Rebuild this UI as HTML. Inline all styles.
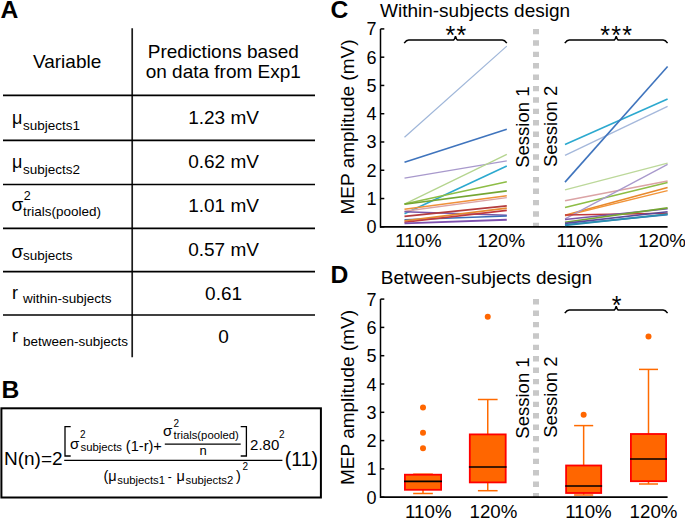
<!DOCTYPE html>
<html><head><meta charset="utf-8"><style>
html,body{margin:0;padding:0;background:#fff;}
svg{display:block;}
</style></head><body>
<svg width="685" height="519" viewBox="0 0 685 519">
<rect width="685" height="519" fill="#fff"/>
<text x="0.5" y="17.5" font-family="Liberation Sans, sans-serif" font-size="24.7" font-weight="bold">A</text>
<g stroke="#000" stroke-width="1.7">
<line x1="132.2" y1="28.3" x2="132.2" y2="357.2" stroke="#1c1c1c"/>
<line x1="3" y1="95.4" x2="315" y2="95.4"/>
<line x1="3" y1="140.4" x2="315" y2="140.4"/>
<line x1="3" y1="184.5" x2="315" y2="184.5"/>
<line x1="3" y1="228.3" x2="315" y2="228.3"/>
<line x1="3" y1="271.7" x2="315" y2="271.7"/>
<line x1="3" y1="315" x2="315" y2="315"/>
</g>
<text x="67.1" y="68.3" font-family="Liberation Sans, sans-serif" font-size="19" text-anchor="middle">Variable</text>
<text x="223.3" y="57.8" font-family="Liberation Sans, sans-serif" font-size="19" text-anchor="middle">Predictions based</text>
<text x="223.3" y="78.4" font-family="Liberation Sans, sans-serif" font-size="19" text-anchor="middle">on data from Exp1</text>
<text x="223.6" y="124.2" font-family="Liberation Sans, sans-serif" font-size="19" text-anchor="middle">1.23 mV</text>
<text x="223.6" y="168.4" font-family="Liberation Sans, sans-serif" font-size="19" text-anchor="middle">0.62 mV</text>
<text x="223.6" y="212.3" font-family="Liberation Sans, sans-serif" font-size="19" text-anchor="middle">1.01 mV</text>
<text x="223.6" y="255.8" font-family="Liberation Sans, sans-serif" font-size="19" text-anchor="middle">0.57 mV</text>
<text x="223.6" y="299.7" font-family="Liberation Sans, sans-serif" font-size="19" text-anchor="middle">0.61</text>
<text x="223.6" y="343" font-family="Liberation Sans, sans-serif" font-size="19" text-anchor="middle">0</text>
<text x="12" y="124" font-family="Liberation Sans, sans-serif" font-size="18">&#956;<tspan x="23" y="129.5" font-size="13.5">subjects1</tspan></text>
<text x="12" y="168.4" font-family="Liberation Sans, sans-serif" font-size="18">&#956;<tspan x="23" y="173.9" font-size="13.5">subjects2</tspan></text>
<text x="11.5" y="210.6" font-family="Liberation Sans, sans-serif" font-size="19">&#963;<tspan x="23.8" y="200.3" font-size="12.5">2</tspan><tspan x="23" y="216.4" font-size="13.5">trials(pooled)</tspan></text>
<text x="11.5" y="257.6" font-family="Liberation Sans, sans-serif" font-size="19">&#963;<tspan x="23" y="259.9" font-size="13.5">subjects</tspan></text>
<text x="12" y="299" font-family="Liberation Sans, sans-serif" font-size="18">r<tspan x="23" y="302.8" font-size="13.5">within-subjects</tspan></text>
<text x="12" y="342.2" font-family="Liberation Sans, sans-serif" font-size="18">r<tspan x="23" y="345.5" font-size="13.5">between-subjects</tspan></text>
<text x="1.5" y="398.4" font-family="Liberation Sans, sans-serif" font-size="24.7" font-weight="bold">B</text>
<rect x="1.4" y="408.3" width="319.5" height="89.2" fill="none" stroke="#000" stroke-width="2"/>
<text x="4" y="465.4" font-family="Liberation Sans, sans-serif" font-size="19">N(n)=2</text>
<line x1="64.2" y1="460.3" x2="282.4" y2="460.3" stroke="#000" stroke-width="1.3"/>
<path d="M70.7 426.6 H65 V456 H70.7" fill="none" stroke="#000" stroke-width="1.3"/>
<path d="M240.7 426.6 H246.4 V456 H240.7" fill="none" stroke="#000" stroke-width="1.3"/>
<text x="70" y="448.5" font-family="Liberation Sans, sans-serif" font-size="15">&#963;</text>
<text x="80" y="438.1" font-family="Liberation Sans, sans-serif" font-size="10">2</text>
<text x="80.5" y="451.4" font-family="Liberation Sans, sans-serif" font-size="11.3">subjects</text>
<text x="125.8" y="450.5" font-family="Liberation Sans, sans-serif" font-size="14.6">(1-r)+</text>
<line x1="164.8" y1="444.2" x2="240.7" y2="444.2" stroke="#000" stroke-width="1.2"/>
<text x="163" y="435.9" font-family="Liberation Sans, sans-serif" font-size="15">&#963;</text>
<text x="173.5" y="427" font-family="Liberation Sans, sans-serif" font-size="10">2</text>
<text x="173.5" y="439.2" font-family="Liberation Sans, sans-serif" font-size="11.3">trials(pooled)</text>
<text x="203.2" y="455.1" font-family="Liberation Sans, sans-serif" font-size="13" text-anchor="middle">n</text>
<text x="250.1" y="450.4" font-family="Liberation Sans, sans-serif" font-size="15">2.80</text>
<text x="279" y="438.1" font-family="Liberation Sans, sans-serif" font-size="10">2</text>
<text x="284.8" y="465.6" font-family="Liberation Sans, sans-serif" font-size="19.5">(11)</text>
<text x="103.5" y="481" font-family="Liberation Sans, sans-serif" font-size="14.5">(&#956;</text>
<text x="117.3" y="484" font-family="Liberation Sans, sans-serif" font-size="11.3">subjects1</text>
<text x="167.8" y="481" font-family="Liberation Sans, sans-serif" font-size="12">-</text>
<text x="176.5" y="481" font-family="Liberation Sans, sans-serif" font-size="14.5">&#956;</text>
<text x="185.5" y="484" font-family="Liberation Sans, sans-serif" font-size="11.3">subjects2</text>
<text x="236" y="481" font-family="Liberation Sans, sans-serif" font-size="14.5">)</text>
<text x="242.5" y="469.6" font-family="Liberation Sans, sans-serif" font-size="10">2</text>
<line x1="536" y1="28.910000000000025" x2="536" y2="226.8" stroke="#c8c8c8" stroke-width="6" stroke-dasharray="5.4 6"/>
<line x1="380.5" y1="28.910000000000025" x2="380.5" y2="227.60000000000002" stroke="#000" stroke-width="1.5"/>
<line x1="380" y1="226.8" x2="667.6" y2="226.8" stroke="#000" stroke-width="1.8"/>
<line x1="380.5" y1="226.80" x2="384.3" y2="226.80" stroke="#000" stroke-width="1.5"/>
<text x="376.5" y="233.30" font-family="Liberation Sans, sans-serif" font-size="18" text-anchor="end">0</text>
<line x1="380.5" y1="198.53" x2="384.3" y2="198.53" stroke="#000" stroke-width="1.5"/>
<text x="376.5" y="205.03" font-family="Liberation Sans, sans-serif" font-size="18" text-anchor="end">1</text>
<line x1="380.5" y1="170.26" x2="384.3" y2="170.26" stroke="#000" stroke-width="1.5"/>
<text x="376.5" y="176.76" font-family="Liberation Sans, sans-serif" font-size="18" text-anchor="end">2</text>
<line x1="380.5" y1="141.99" x2="384.3" y2="141.99" stroke="#000" stroke-width="1.5"/>
<text x="376.5" y="148.49" font-family="Liberation Sans, sans-serif" font-size="18" text-anchor="end">3</text>
<line x1="380.5" y1="113.72" x2="384.3" y2="113.72" stroke="#000" stroke-width="1.5"/>
<text x="376.5" y="120.22" font-family="Liberation Sans, sans-serif" font-size="18" text-anchor="end">4</text>
<line x1="380.5" y1="85.45" x2="384.3" y2="85.45" stroke="#000" stroke-width="1.5"/>
<text x="376.5" y="91.95" font-family="Liberation Sans, sans-serif" font-size="18" text-anchor="end">5</text>
<line x1="380.5" y1="57.18" x2="384.3" y2="57.18" stroke="#000" stroke-width="1.5"/>
<text x="376.5" y="63.68" font-family="Liberation Sans, sans-serif" font-size="18" text-anchor="end">6</text>
<line x1="380.5" y1="28.91" x2="384.3" y2="28.91" stroke="#000" stroke-width="1.5"/>
<text x="376.5" y="35.41" font-family="Liberation Sans, sans-serif" font-size="18" text-anchor="end">7</text>
<line x1="536" y1="299.1" x2="536" y2="497.2" stroke="#c8c8c8" stroke-width="6" stroke-dasharray="5.4 6"/>
<line x1="380.5" y1="299.1" x2="380.5" y2="498.0" stroke="#000" stroke-width="1.5"/>
<line x1="380" y1="497.2" x2="667.6" y2="497.2" stroke="#000" stroke-width="1.8"/>
<line x1="380.5" y1="497.20" x2="384.3" y2="497.20" stroke="#000" stroke-width="1.5"/>
<text x="376.5" y="503.70" font-family="Liberation Sans, sans-serif" font-size="18" text-anchor="end">0</text>
<line x1="380.5" y1="468.90" x2="384.3" y2="468.90" stroke="#000" stroke-width="1.5"/>
<text x="376.5" y="475.40" font-family="Liberation Sans, sans-serif" font-size="18" text-anchor="end">1</text>
<line x1="380.5" y1="440.60" x2="384.3" y2="440.60" stroke="#000" stroke-width="1.5"/>
<text x="376.5" y="447.10" font-family="Liberation Sans, sans-serif" font-size="18" text-anchor="end">2</text>
<line x1="380.5" y1="412.30" x2="384.3" y2="412.30" stroke="#000" stroke-width="1.5"/>
<text x="376.5" y="418.80" font-family="Liberation Sans, sans-serif" font-size="18" text-anchor="end">3</text>
<line x1="380.5" y1="384.00" x2="384.3" y2="384.00" stroke="#000" stroke-width="1.5"/>
<text x="376.5" y="390.50" font-family="Liberation Sans, sans-serif" font-size="18" text-anchor="end">4</text>
<line x1="380.5" y1="355.70" x2="384.3" y2="355.70" stroke="#000" stroke-width="1.5"/>
<text x="376.5" y="362.20" font-family="Liberation Sans, sans-serif" font-size="18" text-anchor="end">5</text>
<line x1="380.5" y1="327.40" x2="384.3" y2="327.40" stroke="#000" stroke-width="1.5"/>
<text x="376.5" y="333.90" font-family="Liberation Sans, sans-serif" font-size="18" text-anchor="end">6</text>
<line x1="380.5" y1="299.10" x2="384.3" y2="299.10" stroke="#000" stroke-width="1.5"/>
<text x="376.5" y="305.60" font-family="Liberation Sans, sans-serif" font-size="18" text-anchor="end">7</text>
<text x="330.5" y="17.5" font-family="Liberation Sans, sans-serif" font-size="24.7" font-weight="bold">C</text>
<text x="380" y="16.9" font-family="Liberation Sans, sans-serif" font-size="19">Within-subjects design</text>
<text x="330.5" y="283.1" font-family="Liberation Sans, sans-serif" font-size="24.7" font-weight="bold">D</text>
<text x="380.8" y="283.8" font-family="Liberation Sans, sans-serif" font-size="19">Between-subjects design</text>
<text transform="translate(354,127) rotate(-90)" font-family="Liberation Sans, sans-serif" font-size="19" text-anchor="middle">MEP amplitude (mV)</text>
<text transform="translate(354,397.5) rotate(-90)" font-family="Liberation Sans, sans-serif" font-size="19" text-anchor="middle">MEP amplitude (mV)</text>
<text transform="translate(529.3,127.2) rotate(-90)" font-family="Liberation Sans, sans-serif" font-size="18.5" text-anchor="middle">Session 1</text>
<text transform="translate(557,126.4) rotate(-90)" font-family="Liberation Sans, sans-serif" font-size="18.5" text-anchor="middle">Session 2</text>
<text transform="translate(529.3,398) rotate(-90)" font-family="Liberation Sans, sans-serif" font-size="18.5" text-anchor="middle">Session 1</text>
<text transform="translate(557,397.2) rotate(-90)" font-family="Liberation Sans, sans-serif" font-size="18.5" text-anchor="middle">Session 2</text>
<text x="395.2" y="247.4" font-family="Liberation Sans, sans-serif" font-size="18.7">110%</text>
<text x="477.3" y="247.4" font-family="Liberation Sans, sans-serif" font-size="18.7">120%</text>
<text x="556.5" y="247.4" font-family="Liberation Sans, sans-serif" font-size="18.7">110%</text>
<text x="638.1999999999999" y="247.4" font-family="Liberation Sans, sans-serif" font-size="18.7">120%</text>
<text x="405.1" y="517.5" font-family="Liberation Sans, sans-serif" font-size="18.7">110%</text>
<text x="469.5" y="517.5" font-family="Liberation Sans, sans-serif" font-size="18.7">120%</text>
<text x="565.3" y="517.5" font-family="Liberation Sans, sans-serif" font-size="18.7">110%</text>
<text x="629.5999999999999" y="517.5" font-family="Liberation Sans, sans-serif" font-size="18.7">120%</text>
<line x1="404.5" y1="137.18" x2="506.8" y2="46.15" stroke="#9fb6d9" stroke-width="1.2"/>
<line x1="404.5" y1="162.34" x2="506.8" y2="129.27" stroke="#3f74bd" stroke-width="1.6"/>
<line x1="404.5" y1="178.18" x2="506.8" y2="160.93" stroke="#a899cc" stroke-width="1.4"/>
<line x1="404.5" y1="204.18" x2="506.8" y2="154.43" stroke="#b4d48e" stroke-width="1.3"/>
<line x1="404.5" y1="213.80" x2="506.8" y2="166.02" stroke="#2ca9cf" stroke-width="1.6"/>
<line x1="404.5" y1="203.90" x2="506.8" y2="181.85" stroke="#8dbd45" stroke-width="1.5"/>
<line x1="404.5" y1="204.18" x2="506.8" y2="190.90" stroke="#74a532" stroke-width="1.6"/>
<line x1="404.5" y1="209.27" x2="506.8" y2="195.70" stroke="#f0913a" stroke-width="1.6"/>
<line x1="404.5" y1="211.25" x2="506.8" y2="197.68" stroke="#dba3a5" stroke-width="1.4"/>
<line x1="404.5" y1="211.82" x2="506.8" y2="215.21" stroke="#7a57a8" stroke-width="1.6"/>
<line x1="404.5" y1="216.34" x2="506.8" y2="205.88" stroke="#b33b3d" stroke-width="1.6"/>
<line x1="404.5" y1="219.73" x2="506.8" y2="216.06" stroke="#3a6db6" stroke-width="1.6"/>
<line x1="404.5" y1="220.86" x2="506.8" y2="208.14" stroke="#e58a30" stroke-width="1.6"/>
<line x1="404.5" y1="222.28" x2="506.8" y2="210.40" stroke="#c2393d" stroke-width="1.6"/>
<line x1="404.5" y1="223.41" x2="506.8" y2="219.73" stroke="#7c4fae" stroke-width="1.8"/>
<line x1="565" y1="144.53" x2="667.6" y2="99.02" stroke="#2ca9cf" stroke-width="1.6"/>
<line x1="565" y1="155.28" x2="667.6" y2="106.37" stroke="#a5b8db" stroke-width="1.4"/>
<line x1="565" y1="182.13" x2="667.6" y2="66.51" stroke="#3f74bd" stroke-width="1.6"/>
<line x1="565" y1="189.77" x2="667.6" y2="163.19" stroke="#bcd89a" stroke-width="1.3"/>
<line x1="565" y1="200.79" x2="667.6" y2="181.00" stroke="#dba3a5" stroke-width="1.4"/>
<line x1="565" y1="207.58" x2="667.6" y2="182.42" stroke="#8dbd45" stroke-width="1.6"/>
<line x1="565" y1="215.21" x2="667.6" y2="187.50" stroke="#e8892c" stroke-width="1.6"/>
<line x1="565" y1="215.77" x2="667.6" y2="190.61" stroke="#f29438" stroke-width="1.4"/>
<line x1="565" y1="218.88" x2="667.6" y2="164.32" stroke="#a899cc" stroke-width="1.3"/>
<line x1="565" y1="214.93" x2="667.6" y2="213.23" stroke="#c2393d" stroke-width="1.6"/>
<line x1="565" y1="219.45" x2="667.6" y2="208.71" stroke="#7a57a8" stroke-width="1.6"/>
<line x1="565" y1="222.28" x2="667.6" y2="207.86" stroke="#74a532" stroke-width="1.6"/>
<line x1="565" y1="223.41" x2="667.6" y2="211.82" stroke="#5b4a9a" stroke-width="1.6"/>
<line x1="565" y1="224.82" x2="667.6" y2="214.64" stroke="#3a6db6" stroke-width="1.6"/>
<line x1="565" y1="225.39" x2="667.6" y2="214.08" stroke="#2a8fb0" stroke-width="1.8"/>
<path d="M404.2 43.1 Q406.4 40.1 408.7 40.1 H452.9 Q454.5 40.1 455.5 36.2 Q456.5 40.1 458.1 40.1 H502.3 Q504.6 40.1 506.8 43.1" fill="none" stroke="#000" stroke-width="1.5"/>
<path d="M564.8 43.1 Q567.0 40.1 569.3 40.1 H613.6 Q615.2 40.1 616.2 36.2 Q617.2 40.1 618.8000000000001 40.1 H663.1 Q665.4 40.1 667.6 43.1" fill="none" stroke="#000" stroke-width="1.5"/>
<path d="M564.8 313.1 Q567.0 310.1 569.3 310.1 H613.6 Q615.2 310.1 616.2 306.2 Q617.2 310.1 618.8000000000001 310.1 H663.1 Q665.4 310.1 667.6 313.1" fill="none" stroke="#000" stroke-width="1.5"/>
<text x="450.3" y="43.7" font-family="Liberation Sans, sans-serif" font-size="25" text-anchor="middle">*</text>
<text x="461.3" y="43.7" font-family="Liberation Sans, sans-serif" font-size="25" text-anchor="middle">*</text>
<text x="605.2" y="43.7" font-family="Liberation Sans, sans-serif" font-size="25" text-anchor="middle">*</text>
<text x="616.2" y="43.7" font-family="Liberation Sans, sans-serif" font-size="25" text-anchor="middle">*</text>
<text x="627.2" y="43.7" font-family="Liberation Sans, sans-serif" font-size="25" text-anchor="middle">*</text>
<text x="616.6" y="313.7" font-family="Liberation Sans, sans-serif" font-size="25" text-anchor="middle">*</text>
<g stroke="#ff6a00" stroke-width="1.5"><line x1="423.0" y1="474.2" x2="423.0" y2="493.5"/><line x1="413.15" y1="474.2" x2="432.85" y2="474.2"/><line x1="413.15" y1="493.5" x2="432.85" y2="493.5"/></g>
<rect x="404.9" y="474.7" width="36.2" height="15.099999999999977" fill="#ff6600" stroke="#ff0000" stroke-width="1.8"/>
<line x1="404" y1="481.4" x2="442" y2="481.4" stroke="#000" stroke-width="1.6"/>
<circle cx="423.0" cy="407.4" r="3" fill="#ff6600"/>
<circle cx="423.0" cy="432.8" r="3" fill="#ff6600"/>
<circle cx="423.0" cy="448.3" r="3" fill="#ff6600"/>
<g stroke="#ff6a00" stroke-width="1.5"><line x1="487.75" y1="399.5" x2="487.75" y2="490.7"/><line x1="477.9" y1="399.5" x2="497.6" y2="399.5"/><line x1="477.9" y1="490.7" x2="497.6" y2="490.7"/></g>
<rect x="469.79999999999995" y="434.4" width="35.90000000000005" height="48.000000000000014" fill="#ff6600" stroke="#ff0000" stroke-width="1.8"/>
<line x1="468.9" y1="467" x2="506.6" y2="467" stroke="#000" stroke-width="1.6"/>
<circle cx="487.75" cy="316.8" r="3" fill="#ff6600"/>
<g stroke="#ff6a00" stroke-width="1.5"><line x1="583.6500000000001" y1="425.6" x2="583.6500000000001" y2="495"/><line x1="574.1000000000001" y1="425.6" x2="593.2" y2="425.6"/><line x1="574.1000000000001" y1="495" x2="593.2" y2="495"/></g>
<rect x="566.1" y="465.5" width="35.09999999999998" height="27.499999999999954" fill="#ff6600" stroke="#ff0000" stroke-width="1.8"/>
<line x1="565.2" y1="486" x2="602.1" y2="486" stroke="#000" stroke-width="1.6"/>
<circle cx="583.6500000000001" cy="414.8" r="3" fill="#ff6600"/>
<g stroke="#ff6a00" stroke-width="1.5"><line x1="648.5" y1="369.4" x2="648.5" y2="484"/><line x1="639.0" y1="369.4" x2="658.0" y2="369.4"/><line x1="639.0" y1="484" x2="658.0" y2="484"/></g>
<rect x="630.9" y="434.0" width="35.2" height="47.2" fill="#ff6600" stroke="#ff0000" stroke-width="1.8"/>
<line x1="630" y1="459" x2="667" y2="459" stroke="#000" stroke-width="1.6"/>
<circle cx="648.5" cy="336.6" r="3" fill="#ff6600"/>
</svg>
</body></html>
